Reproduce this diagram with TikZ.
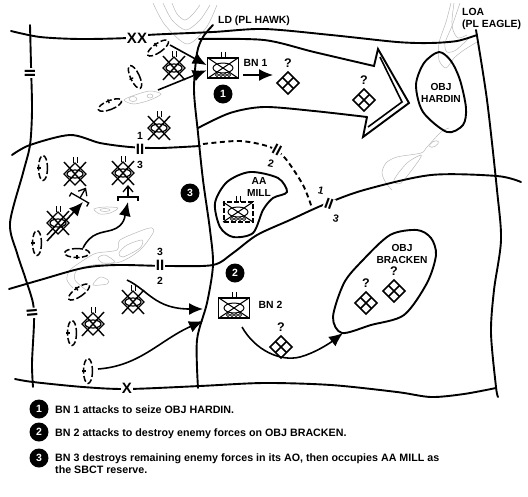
\documentclass[tikz,border=0pt]{standalone}
\usepackage{fontspec}
\setmainfont{Liberation Sans}
\usetikzlibrary{arrows.meta, positioning, calc}

\tikzset{
	contour/.style={line width=0.5pt, gray!55},
	bound/.style={line width=1.9pt, line cap=round},
	advance/.style={line width=1.6pt, -{Latex[length=14pt,width=12pt]}},
	maplabel/.style={font=\fontsize{10.4}{12}\selectfont\bfseries, inner sep=0pt},
	echelon/.style={font=\fontsize{15}{15}\selectfont\bfseries, fill=white, inner sep=1pt},
	numdot/.style={circle, fill=black, text=white, minimum size=19pt, inner sep=0pt, font=\fontsize{10.5}{11}\selectfont\bfseries},
	objlabel/.style={font=\fontsize{10.2}{12}\selectfont\bfseries, align=center, inner sep=0pt},
	legendtext/.style={font=\fontsize{10.7}{12}\selectfont\bfseries, anchor=west, align=left, inner sep=0pt},
	unitbox/.style={draw, line width=1.8pt, minimum width=31pt, minimum height=20pt, inner sep=0pt},
	pics/enemypos/.style={code={
		\draw[line width=1.4pt] (0,-11) -- (11,0) -- (0,11) -- (-11,0) -- cycle;
		\draw[line width=1.4pt] (-11,-12) -- (11,12) (11,-12) -- (-11,12);
		\draw[line width=1.2pt] (0,0) ellipse [x radius=8, y radius=4];
		\draw[line width=0.9pt] (-2,-11) -- (-2,-17) (2,-11) -- (2,-17);
	}},
	pics/unknownpos/.style={code={
		\draw[line width=1.5pt] (0,-11) -- (11,0) -- (0,11) -- (-11,0) -- cycle;
		\draw[line width=1.5pt] (-5.5,-5.5) -- (5.5,5.5) (5.5,-5.5) -- (-5.5,5.5);
		\node[font=\fontsize{12.5}{13}\selectfont\bfseries, inner sep=0pt] (-q) at (0,-20) {?};
	}},
	pics/battlepos/.style={code={
		\draw[line width=1.5pt, dash pattern=on 6pt off 2.5pt] (0,0) ellipse [x radius=4.5, y radius=12.5];
		\draw[line width=1.4pt] (-6,0) -- (-2,0);
	}},
	pics/attackpos/.style={code={
		\draw[line width=1.3pt] (-10,4) -- (-10,0) -- (10,0) -- (10,4);
		\draw[line width=1.3pt] (0,0) -- (0,-10);
		\draw[line width=1.3pt] (-5,-5) -- (0,-11) -- (5,-5);
	}},
	pics/stryker/.style={code={
		\draw[line width=1pt] (-15,-10) -- (15,10) (15,-10) -- (-15,10);
		\draw[line width=1pt] (0,0) ellipse [x radius=10, y radius=5];
		\foreach \wx in {-6,-2,2,6} \draw[line width=0.8pt] (\wx,7) circle [radius=1.6];
		\draw[line width=1pt] (-2,-10) -- (-2,-16) (2,-10) -- (2,-16);
	}}
}

\begin{document}
\begin{tikzpicture}[x=1pt, y=-1pt]
	\useasboundingbox (0,0) rectangle (528,496);

	% terrain
	\draw[contour] plot[smooth] coordinates {(153,3) (165,25) (187,44) (206,28) (217,5)};
	\draw[contour] plot[smooth] coordinates {(163,3) (172,20) (186,30) (200,20) (210,5)};
	\draw[contour] plot[smooth] coordinates {(172,3) (177,14) (185,20) (193,14) (200,5)};
	\draw[contour] plot[smooth cycle] coordinates {(124,100) (135,95) (150,91) (161,94) (150,100) (134,104)};
	\draw[contour] (133,99) ellipse [x radius=4, y radius=2.5];
	\draw[contour] (150,96) ellipse [x radius=3, y radius=2];
	\draw[contour] plot[smooth cycle] coordinates {(94,209) (105,207) (118,208) (110,213) (100,214)};
	\draw[contour] (105,210) ellipse [x radius=5, y radius=1.5];
	\draw[contour] plot[smooth] coordinates {(73,288) (67,280) (70,270) (87,258) (97,253) (117,250) (120,240) (143,230) (152,228) (153,233) (140,250) (120,262) (93,265) (77,270) (75,280) (86,290)};
	\draw[contour] plot[smooth cycle] coordinates {(142,240) (140,248) (123,257) (119,253) (127,245)};
	\draw[contour] plot[smooth cycle] coordinates {(98,258) (105,255) (115,262) (103,263)};
	\draw[contour] plot[smooth cycle] coordinates {(93,285) (100,277) (108,280) (107,284)};
	\draw[contour] plot[smooth] coordinates {(451,3) (446,22) (439,43) (439,60) (446,68) (454,58) (464,50) (477,42)};
	\draw[contour] plot[smooth] coordinates {(454,3) (452,20) (453,30) (458,38) (467,35)};
	\draw[contour] plot[smooth] coordinates {(460,3) (452,26) (445,43) (447,52) (456,50) (470,37)};
	\draw[contour] plot[smooth] coordinates {(449,128) (441,132) (427,147) (421,153) (397,157) (386,163) (382,173) (386,183) (392,190)};
	\draw[contour] plot[smooth cycle] coordinates {(421,155) (407,163) (394,180) (401,183) (417,163)};
	\draw[contour, rotate around={30:(434,144)}] (434,144) ellipse [x radius=5, y radius=2.5];

	% boundaries and phase lines
	\draw[bound] plot[smooth] coordinates {(11,31) (40,37) (80,39) (127,38) (147,35) (213,32) (264,29) (331,35) (397,42) (430,43) (457,41) (477,35)};
	\draw[bound] plot[smooth] coordinates {(30,25) (31,65) (32,110) (30,145) (23,173) (10,223) (17,253) (25,277) (33,303) (34,323) (32,363) (33,387)};
	\draw[bound] plot[smooth] coordinates {(12,155) (30,145) (70,135) (100,143) (130,147) (160,148) (200,146)};
	\draw[bound, dash pattern=on 5pt off 3.5pt, line cap=butt] plot[smooth] coordinates {(203,144) (240,141) (270,147) (285,158) (303,185) (312,208)};
	\draw[bound] plot[smooth] coordinates {(9,289) (40,280) (83,268) (117,265) (168,266) (213,265) (233,253) (257,235) (290,220) (323,205) (364,190) (431,175) (497,176) (521,182)};
	\draw[bound] plot[smooth] coordinates {(15,379) (33,382) (83,387) (127,389) (200,386) (264,383) (331,385) (397,392) (431,397) (464,394) (496,388)};
	\draw[bound] plot[smooth] coordinates {(476,30) (487,100) (497,190) (501,240) (494,290) (491,333) (496,387) (498,397)};
	\draw[bound] plot[smooth] coordinates {(213,25) (203,37) (197,53) (194,90) (198,133) (203,180) (210,230) (213,265) (207,303) (197,340) (198,388)};

	% axis of advance for BN 1
	\draw[bound, line join=miter] plot[smooth] coordinates {(199,39) (264,40) (314,52) (374,66)} -- (378,49) -- (409,103) -- (363,137) -- (367,117);
	\draw[bound] plot[smooth] coordinates {(198,128) (230,113) (264,107) (314,111) (367,117)};
	\draw[line width=1.6pt, line join=miter] (380,57) -- (402,102) -- (368,127);

	% objectives
	\draw[bound] plot[smooth cycle] coordinates {(439,52) (424,63) (416,85) (423,112) (447,132) (463,125) (466,108) (460,80) (451,61)};
	\draw[bound] plot[smooth cycle] coordinates {(342,333) (333,317) (344,283) (362,261) (390,235) (417,230) (431,238) (436,255) (427,283) (404,315) (371,325)};
	\draw[bound] plot[smooth cycle] coordinates {(215,203) (227,182) (250,172) (278,178) (287,192) (273,198) (263,210) (253,233) (233,237) (220,227)};
	\node[objlabel] (hardin) at (441,93) {OBJ\\HARDIN};
	\node[objlabel] (bracken) at (402,254) {OBJ\\BRACKEN};
	\node[objlabel] (mill) at (259,187) {AA\\MILL};

	% echelon marks
	\node[echelon] (xx) at (137,38) {XX};
	\node[echelon] (x) at (127,388) {X};
	\node[echelon, rotate=90] (iiw1) at (30,73) {II};
	\node[echelon, rotate=95] (iiw2) at (32,313) {II};
	\node[echelon] (iia) at (140,149) {II};
	\node[echelon] (iib) at (160,265) {II};
	\node[echelon, rotate=-28] (iic) at (277,150) {II};
	\node[echelon, rotate=-20] (iid) at (329,204) {II};
	\node[maplabel] (la1) at (140,136) {1};
	\node[maplabel] (la3) at (140,165) {3};
	\node[maplabel] (lb3) at (160,252) {3};
	\node[maplabel] (lb2) at (160,281) {2};
	\node[maplabel, rotate=-12] (lc2) at (271,164) {2};
	\node[maplabel, rotate=-12] (ld1) at (321,191) {1};
	\node[maplabel, rotate=-12] (ld3) at (336,219) {3};

	% enemy positions
	\foreach \ex/\ey [count=\ei] in {174/68, 159/128, 75/174, 123/173, 58/223, 133/302, 93/324}
		\pic (enemy\ei) at (\ex,\ey) {enemypos};
	\pic (afp1) at (128,197) {attackpos};
	\pic[rotate=-30] (afp2) at (80,198) {attackpos};

	% possible positions
	\pic (unk1) at (288,83) {unknownpos};
	\pic (unk2) at (364,100) {unknownpos};
	\pic (unk3) at (281,347) {unknownpos};
	\pic (unk4) at (366,303) {unknownpos};
	\pic (unk5) at (394,291) {unknownpos};

	% dispersed battalion locations
	\pic[rotate=-55] (bp1) at (158,48) {battlepos};
	\pic[rotate=25] (bp2) at (135,77) {battlepos};
	\pic[rotate=-68] (bp3) at (110,105) {battlepos};
	\pic (bp4) at (43,168) {battlepos};
	\pic (bp5) at (37,243) {battlepos};
	\pic[rotate=90] (bp6) at (77,253) {battlepos};
	\pic[rotate=-55] (bp7) at (79,292) {battlepos};
	\pic (bp8) at (72,333) {battlepos};
	\pic (bp9) at (88,371) {battlepos};

	% units
	\node[unitbox] (bn1) at (223,68) {};
	\pic at (bn1.center) {stryker};
	\node[unitbox] (bn2) at (234,308) {};
	\pic at (bn2.center) {stryker};
	\node[unitbox, line width=2pt, dash pattern=on 5pt off 2pt, minimum width=29pt] (bn3) at (238,212) {};
	\pic at (bn3.center) {stryker};
	\node[maplabel, right=4pt of bn1, yshift=5pt] (bn1lab) {BN 1};
	\node[maplabel, right=8pt of bn2, yshift=3pt] (bn2lab) {BN 2};

	% graphic control labels
	\node[maplabel, anchor=west] (ld) at (218,21) {LD (PL HAWK)};
	\node[maplabel, anchor=west, align=left] (loa) at (462,19) {LOA\\(PL EAGLE)};

	% attacks
	\coordinate (a1) at (170,45);
	\coordinate (a2) at (158,90);
	\coordinate (a3) at (243,75);
	\coordinate (a4) at (47,241);
	\coordinate (a5) at (83,248);
	\coordinate (a6) at (127,280);
	\coordinate (a7) at (98,369);
	\coordinate (a8) at (242,327);
	\draw[advance] (a1) -- (bn1.170);
	\draw[advance] (a2) -- (bn1.188);
	\draw[advance] (a3) -- (273,75);
	\draw[advance] (a4) -- (83,202);
	\draw[advance] (a5) .. controls (91,232) and (102,233) .. (112,230) .. controls (125,226) and (125,215) .. (128,202);
	\draw[advance] (a6) .. controls (148,290) and (155,309) .. (203,309);
	\draw[advance] (a7) .. controls (140,366) and (160,340) .. (203,321);
	\draw[advance] (a8) .. controls (255,350) and (280,362) .. (300,357) .. controls (315,353) and (330,343) .. (343,333);

	% numbered tasks on the map
	\node[numdot] (n1) at (223,94) {1};
	\node[numdot] (n3) at (190,193) {3};
	\node[numdot] (n2) at (235,273) {2};

	% legend
	\node[numdot] (k1) at (39,409) {1};
	\node[numdot] (k2) at (39,432) {2};
	\node[numdot] (k3) at (39,458) {3};
	\node[legendtext] (t1) at (55,410) {BN 1 attacks to seize OBJ HARDIN.};
	\node[legendtext] (t2) at (55,434) {BN 2 attacks to destroy enemy forces on OBJ BRACKEN.};
	\node[legendtext] (t3) at (55,464) {BN 3 destroys remaining enemy forces in its AO, then occupies AA MILL as\\the SBCT reserve.};
\end{tikzpicture}
\end{document}
